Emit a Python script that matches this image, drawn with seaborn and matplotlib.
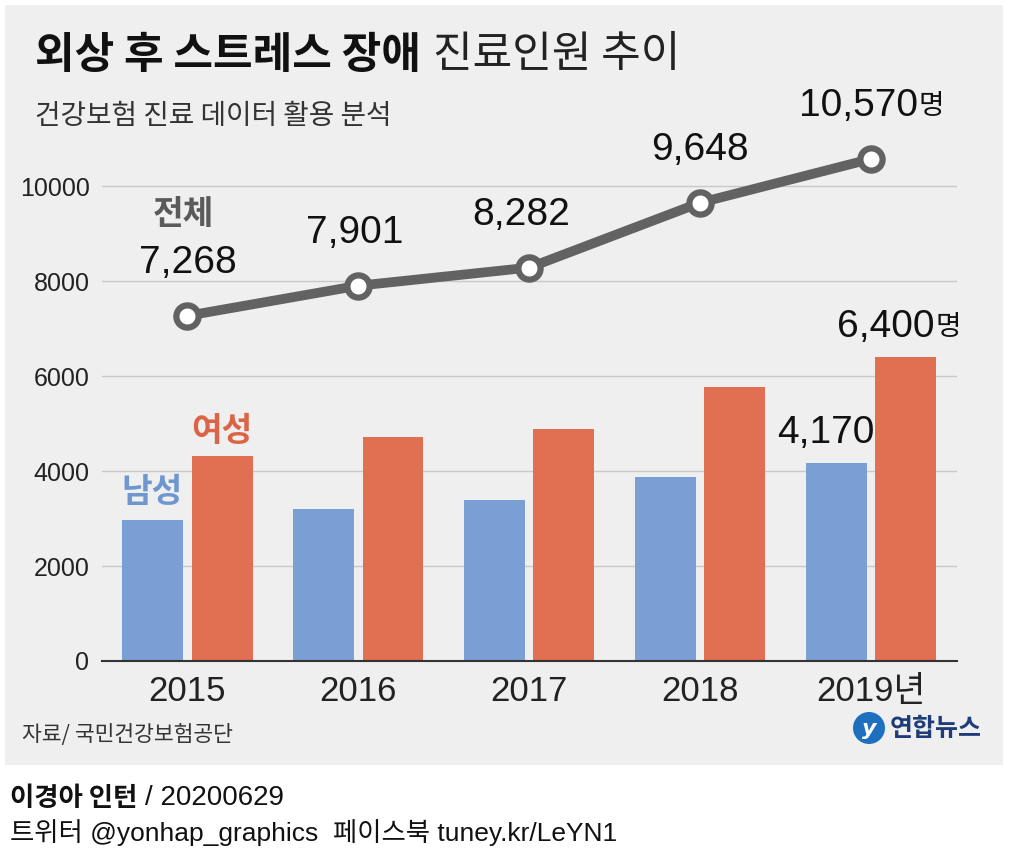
import matplotlib
matplotlib.use('Agg')
import matplotlib.pyplot as plt
from matplotlib.patches import Rectangle, Ellipse
import pandas as pd
import seaborn as sns

# data
years = ['2015', '2016', '2017', '2018', '2019']
year_labels = ['2015', '2016', '2017', '2018', '2019년']
total = [7268, 7901, 8282, 9648, 10570]
male = [2960, 3190, 3400, 3870, 4170]
female = [4308, 4711, 4882, 5778, 6400]
total_labels = ['7,268', '7,901', '8,282', '9,648', '10,570']
y_ticks = [0, 2000, 4000, 6000, 8000, 10000]

KR = ['Noto Sans CJK KR', 'DejaVu Sans']
NUM = ['Liberation Sans Narrow', 'Liberation Sans', 'Noto Sans CJK KR', 'DejaVu Sans']

BLUE = '#7a9fd4'
ORANGE = '#e16f52'
LINE = '#626262'
PANEL = '#efefef'

sns.set_theme(style='white')
plt.rcParams['font.family'] = KR

fig = plt.figure(figsize=(10.09, 8.6), dpi=100)
fig.patch.set_facecolor('white')
fig.patches.append(Rectangle((5 / 1009, 95 / 860), 998 / 1009, 760 / 860,
                             transform=fig.transFigure, facecolor=PANEL,
                             edgecolor='none', zorder=-10))

ax = fig.add_axes([102 / 1009, 199 / 860, 854.5 / 1009, 570 / 860])
ax.set_facecolor('none')
ax.set_zorder(1)

bars = pd.DataFrame({'year': years * 2,
                     'count': male + female,
                     'sex': ['남성'] * 5 + ['여성'] * 5})
sns.barplot(data=bars, x='year', y='count', hue='sex',
            palette=[BLUE, ORANGE], width=0.81, gap=0.12, saturation=1,
            linewidth=0, legend=False, ax=ax, zorder=2)

line_df = pd.DataFrame({'year': years, 'total': total})
sns.pointplot(data=line_df, x='year', y='total', color=LINE, errorbar=None,
              markers='o', markersize=16, markeredgewidth=4.5, linewidth=7,
              ax=ax, zorder=4)
for ln in ax.lines:
    if len(ln.get_xdata()) == len(years):
        ln.set_markerfacecolor('white')
        ln.set_markeredgecolor(LINE)
        ln.set_zorder(4)

ax.set_xlim(-0.5, 4.5)
ax.set_ylim(0, 12000)
ax.set_yticks(y_ticks)
ax.set_yticklabels([str(t) for t in y_ticks], family=NUM, fontsize=18, color='#222')
ax.set_xticks(range(len(years)))
ax.set_xticklabels(year_labels, family=NUM, fontsize=25, color='#222')
ax.tick_params(axis='both', length=0)
ax.tick_params(axis='y', pad=9)
ax.tick_params(axis='x', pad=10)
ax.set_xlabel('')
ax.set_ylabel('')
ax.yaxis.grid(True, color='#c8c8c8', lw=1)
ax.set_axisbelow(True)
for s in ['top', 'right', 'left']:
    ax.spines[s].set_visible(False)
ax.spines['bottom'].set_color('#333333')
ax.spines['bottom'].set_linewidth(1.5)

# total labels above the line
dx = [0, -4, -8, 0, -13]
for i in range(len(years)):
    t = ax.annotate(total_labels[i], (i, total[i]), xytext=(dx[i], 53),
                    textcoords='offset pixels', ha='center', va='center',
                    family=NUM, fontsize=28, color='#111', zorder=6)
ax.annotate('명', xy=(1, 0), xycoords=t, xytext=(1, 3), textcoords='offset pixels',
            ha='left', va='bottom', fontsize=20, color='#111')

# bar value labels for 2019
mbar = ax.patches[4]
fbar = ax.patches[9]
ax.annotate('4,170', (mbar.get_x() + mbar.get_width() / 2, male[4]),
            xytext=(-11, 30), textcoords='offset pixels', ha='center',
            va='center', family=NUM, fontsize=28, color='#111')
t6 = ax.annotate('6,400', (fbar.get_x() + fbar.get_width() / 2, female[4]),
                 xytext=(-20, 30), textcoords='offset pixels', ha='center',
                 va='center', family=NUM, fontsize=28, color='#111')
ax.annotate('명', xy=(1, 0), xycoords=t6, xytext=(1, 3), textcoords='offset pixels',
            ha='left', va='bottom', fontsize=20, color='#111')

# series names
m0 = ax.patches[0]
f0 = ax.patches[5]
ax.annotate('전체', (0, total[0]), xytext=(-4, 101), textcoords='offset pixels',
            ha='center', va='center', fontsize=24, fontweight='bold', color='#5a5a5a')
ax.annotate('여성', (f0.get_x() + f0.get_width() / 2, female[0]), xytext=(0, 25),
            textcoords='offset pixels', ha='center', va='center', fontsize=24,
            fontweight='bold', color='#dc6446')
ax.annotate('남성', (m0.get_x() + m0.get_width() / 2, male[0]), xytext=(-1, 28),
            textcoords='offset pixels', ha='center', va='center', fontsize=24,
            fontweight='bold', color='#6e96cf')

# title and subtitle
t1 = fig.text(35 / 1009, 1 - 55 / 860, '외상 후 스트레스 장애', fontsize=31,
              fontweight='bold', ha='left', va='center', color='#111')
ax.annotate('진료인원 추이', xy=(1, 0.5), xycoords=t1, xytext=(12, 0),
            textcoords='offset pixels', ha='left', va='center', fontsize=31,
            fontweight='light', color='#222', annotation_clip=False)
fig.text(35 / 1009, 1 - 116 / 860, '건강보험 진료 데이터 활용 분석', fontsize=20,
         ha='left', va='center', color='#333', style='italic')

# source and logo
fig.text(22 / 1009, 1 - 735 / 860, '자료/ 국민건강보험공단', fontsize=15.5,
         ha='left', va='center', color='#333', style='italic')
fig.patches.append(Ellipse((869 / 1009, 1 - 728 / 860), 32 / 1009, 32 / 860,
                           transform=fig.transFigure, facecolor='#1f6fbf',
                           edgecolor='none', zorder=3))
fig.text(869 / 1009, 1 - 729 / 860, 'y', family='DejaVu Sans', style='italic',
         fontweight='bold', fontsize=16, color='white', ha='center', va='center')
fig.text(890 / 1009, 1 - 729 / 860, '연합뉴스', fontsize=18, fontweight='bold',
         color='#1e3c78', ha='left', va='center')

# credits
c1 = fig.text(10 / 1009, 1 - 798 / 860, '이경아 인턴', fontsize=19,
              fontweight='bold', color='#111', ha='left', va='center')
ax.annotate('/ 20200629', xy=(1, 0.5), xycoords=c1, xytext=(8, 0),
            textcoords='offset pixels', ha='left', va='center', family=NUM,
            fontsize=20, color='#111', annotation_clip=False)
fig.text(10 / 1009, 1 - 833 / 860, '트위터 @yonhap_graphics  페이스북 tuney.kr/LeYN1',
         family=NUM, fontsize=19, color='#111', ha='left', va='center')

fig.savefig('out.png', dpi=100)
